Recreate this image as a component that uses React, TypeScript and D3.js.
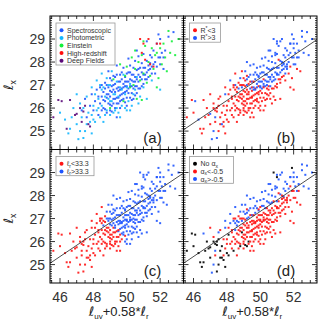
import React, {Component} from 'react'
import * as d3 from 'd3'

// each point: [l_uv + 0.58*l_r, l_x, R* group, l_r group, alpha_x group]
// R*: 0 = R*<3, 1 = R*>3 | l_r: 0 = <33.3, 1 = >33.3 | alpha_x: 0 = none, 1 = <-0.5, 2 = >-0.5
const spectroscopic = [
  [47.3,25.9,0,0,0],[47.5,26.4,0,0,2],[47.6,25.6,0,0,0],[47.8,26.1,0,0,1],[47.9,26.6,1,0,2],
  [48.0,25.9,0,0,1],[48.1,26.3,0,0,0],[48.2,26.8,0,0,2],[48.3,25.7,0,0,1],[48.4,26.2,0,0,1],
  [48.5,26.5,0,0,2],[48.5,27.0,1,0,1],[48.6,26.0,0,0,1],[48.6,26.7,0,1,2],[48.7,26.3,0,0,1],
  [48.7,27.1,0,0,1],[48.8,25.8,0,0,0],[48.8,26.6,0,0,1],[48.9,26.9,1,1,2],[48.9,26.2,0,0,1],
  [49.0,26.5,0,0,1],[49.0,27.3,0,1,2],[49.0,25.9,0,0,1],[49.1,26.7,0,1,1],[49.1,26.1,0,0,1],
  [49.2,27.0,1,1,2],[49.2,26.4,0,0,1],[49.2,27.4,0,1,1],[49.3,26.7,0,1,1],[49.3,26.0,0,0,0],
  [49.3,27.05,0,1,2],[49.4,26.45,0,0,1],[49.4,26.85,1,1,1],[49.4,25.6,0,0,1],[48.9,27.6,0,1,2],
  [49.1,26.95,0,1,1],[48.8,26.45,0,0,1],[49.5,26.75,0,1,1],[49.5,27.15,1,1,2],[49.5,26.2,0,0,1],
  [49.6,26.55,0,1,1],[49.6,27.45,1,1,2],[49.6,26.0,0,0,1],[49.7,26.85,0,1,1],[49.7,27.25,1,1,2],
  [49.7,26.35,0,1,1],[49.8,26.65,0,1,1],[49.8,27.05,1,1,1],[49.8,27.75,1,1,2],[49.9,26.25,0,0,1],
  [49.9,26.95,0,1,1],[49.9,27.35,1,1,2],[50.0,26.75,0,1,1],[50.0,27.15,1,1,1],[50.0,26.1,0,1,1],
  [50.1,27.55,1,1,2],[50.1,26.85,1,1,1],[50.2,26.45,0,1,1],[50.2,27.25,0,1,1],[50.2,27.85,1,1,2],
  [50.3,26.95,1,1,1],[50.3,26.65,0,1,1],[50.3,27.45,1,1,2],[50.4,27.15,1,1,1],[50.4,26.4,0,1,1],
  [50.4,27.75,1,1,2],[50.0,27.5,1,1,1],[50.5,26.95,0,1,1],[50.5,27.35,1,1,1],[50.5,28.05,1,1,2],
  [50.6,26.65,0,1,1],[50.6,27.65,1,1,2],[50.7,27.15,1,1,1],[50.7,27.45,1,1,1],[50.7,28.25,1,1,2],
  [50.8,26.85,0,1,1],[50.8,27.75,1,1,1],[50.9,27.25,1,1,1],[50.9,27.95,1,1,2],[51.0,27.45,1,1,1],
  [51.0,27.05,0,1,1],[51.0,28.35,1,1,2],[51.1,27.75,1,1,1],[51.1,27.25,0,1,1],[51.2,28.05,1,1,2],
  [51.2,27.55,1,1,1],[51.3,27.35,0,1,1],[51.3,27.85,1,1,1],[51.4,28.3,1,1,2],[51.4,27.7,1,1,1],
  [50.6,28.5,1,1,2],[51.2,28.9,1,1,2],[51.5,27.8,1,1,1],[51.5,28.2,1,1,2],[51.6,28.5,1,1,2],
  [51.7,28.0,1,1,1],[51.7,27.5,0,1,1],[51.8,28.8,1,1,2],[51.9,28.2,1,1,1],[52.0,27.9,1,1,1],
  [52.0,29.0,1,1,2],[52.1,28.4,1,1,2],[52.2,27.7,0,1,1],[52.3,28.5,1,1,2],[52.5,29.1,1,1,2],
  [52.8,29.3,1,1,2],[51.9,29.2,1,1,0],
  [48.3,26.5,0,0,1],[48.4,26.9,0,0,2],[48.5,25.9,0,0,1],[48.6,26.35,0,0,1],[48.7,25.95,0,0,1],
  [48.7,26.85,1,0,2],[48.8,27.0,0,1,1],[48.9,26.6,0,0,1],[49.0,26.15,0,0,1],[49.0,26.75,0,1,1],
  [49.1,27.2,0,1,2],[49.1,25.85,0,0,0],[49.2,26.2,0,0,1],[49.2,26.8,0,1,1],[49.3,26.4,0,0,1],
  [49.3,27.35,1,1,2],[49.4,26.2,0,0,1],[49.4,27.45,1,1,2],[49.5,26.45,0,1,1],[49.5,26.9,0,1,1],
  [49.6,26.3,0,0,1],[49.6,26.8,1,1,1],[49.6,27.15,0,1,1],[49.7,26.6,0,1,1],[49.7,27.55,1,1,2],
  [49.8,26.4,0,1,1],[49.8,26.9,1,1,1],[49.9,26.7,0,1,1],[49.9,27.15,1,1,1],[50.0,26.95,1,1,1],
  [50.0,26.45,0,1,1],[50.1,26.65,0,1,1],[50.1,27.15,1,1,1],[50.2,26.95,1,1,1],[50.2,27.55,1,1,2],
  [50.3,26.35,0,1,1],[50.3,27.2,1,1,1],[50.4,26.85,0,1,1],[50.4,27.45,1,1,1],[50.5,26.55,0,1,1],
  [50.5,27.15,1,1,1],[50.6,26.95,1,1,1],[50.6,27.25,1,1,1],[50.7,26.85,0,1,1],[50.7,27.7,1,1,2],
  [50.8,27.35,1,1,1],[50.9,27.55,1,1,1],[50.9,26.95,0,1,1],[51.0,27.75,1,1,2],[51.1,27.45,1,1,1],
  [51.2,27.25,0,1,1],[51.3,27.65,1,1,1],[51.4,27.95,1,1,2],[51.5,27.5,1,1,1],[51.6,27.9,1,1,1],
  [51.8,27.8,0,1,1],[52.0,28.2,1,1,1],[52.2,28.2,1,1,2],[50.1,28.15,1,1,2],[49.4,27.85,1,1,2]
]

const photometric = [
  [46.0,25.8,0,0,0],[46.3,25.5,1,0,0],[46.6,25.1,0,0,0],[47.1,24.65,1,0,2],[47.4,24.7,1,0,0],
  [46.8,26.0,0,0,0],[47.0,25.3,0,0,0],[47.2,26.2,0,0,1],[47.3,25.6,1,0,2],[47.5,25.0,0,0,0],
  [47.6,26.5,0,0,1],[47.7,25.8,0,0,0],[47.8,25.4,0,0,1],[47.9,26.9,0,0,2],[48.0,26.1,0,0,1],
  [48.0,25.5,0,0,0],[48.1,26.6,0,0,1],[48.2,25.9,0,0,1],[48.2,27.2,1,0,2],[48.3,26.4,0,0,1],
  [48.4,25.6,0,0,0],[48.4,27.0,0,0,1],[48.5,26.1,0,0,1],[48.6,26.9,0,0,2],[48.6,25.4,0,0,1],
  [48.7,26.5,0,0,1],[48.8,27.3,1,1,2],[48.8,25.9,0,0,1],[48.9,26.4,0,0,0],[49.0,27.0,0,1,1],
  [49.0,25.7,0,0,1],[49.1,26.3,0,0,1],[49.1,27.6,1,1,2],[49.2,26.6,0,0,1],[49.3,25.9,0,0,1],
  [49.4,27.15,0,1,1],[49.5,26.5,0,0,1],[49.5,25.8,0,0,1],[49.6,26.9,1,1,1],[49.7,26.1,0,0,1],
  [49.8,27.45,1,1,2],[49.9,26.6,0,1,1],[50.0,25.9,0,1,1],[50.1,26.3,0,1,1],[50.2,27.05,1,1,1],
  [50.3,26.1,0,1,1],[50.5,26.8,0,1,1],[50.6,27.35,1,1,1],[50.8,26.5,0,1,1],[51.0,26.9,0,1,1],
  [51.2,26.4,0,1,1],[51.5,27.2,0,1,1],[49.2,28.0,1,1,2],[48.5,27.5,0,0,2],[47.9,24.9,0,0,0],
  [47.0,26.6,0,0,1],[52.0,26.8,0,1,1],
  [47.4,26.0,0,0,0],[47.6,25.3,0,0,0],[47.9,25.7,0,0,1],[48.1,25.4,0,0,0],[48.3,26.0,0,0,1],
  [48.5,26.8,0,0,2],[48.7,25.7,0,0,1],[48.9,27.0,0,1,1],[49.0,26.3,0,0,1],[49.2,25.8,0,0,0],
  [49.3,26.6,0,1,1],[49.4,26.0,0,0,1],[49.6,25.6,0,0,1],[49.7,26.8,1,1,1],[49.9,26.0,0,1,1],
  [50.0,26.9,1,1,1],[50.2,25.9,0,1,1],[50.4,26.6,0,1,1],[50.7,26.2,0,1,1],[46.7,25.6,0,0,0],
  [47.2,25.0,1,0,2],[46.5,24.9,0,0,0]
]

const einstein = [
  [49.0,26.0,0,0,1],[49.2,27.25,1,1,2],[49.6,27.9,1,1,2],[49.8,26.3,0,1,1],[50.0,27.8,1,1,2],
  [50.2,26.9,0,1,1],[50.3,28.2,1,1,2],[50.4,27.0,1,1,1],[50.5,27.7,1,1,2],[50.6,26.4,0,1,1],
  [50.7,28.0,1,1,2],[50.8,27.2,1,1,1],[50.9,26.35,0,1,1],[50.9,28.3,1,1,2],[51.0,27.5,1,1,1],
  [51.1,28.7,1,1,2],[51.2,27.1,0,1,1],[51.3,28.0,1,1,1],[51.4,27.4,0,1,1],[51.5,28.6,1,1,2],
  [51.6,27.7,1,1,1],[51.7,28.3,1,1,2],[51.8,28.4,1,1,1],[51.9,27.3,0,1,1],[52.0,28.6,1,1,2],
  [52.1,27.9,1,1,1],[52.2,28.8,1,1,2],[52.3,28.2,1,1,1],[52.4,27.6,0,1,1],[52.5,29.35,1,1,2],
  [52.6,28.4,1,1,2],[52.7,28.9,1,1,2],[51.0,28.9,1,1,2],[50.5,28.5,1,1,2],[49.9,27.4,1,1,1],
  [51.8,26.9,0,1,1],[52.9,28.3,1,1,2],[53.1,29.0,1,1,2]
]

const highRedshift = [
  [50.8,29.0,1,1,0],[51.0,28.8,1,1,0],[51.8,28.8,1,1,2],[52.0,28.8,1,1,2],[51.1,28.1,0,1,1],
  [51.4,27.9,1,1,1],[51.6,27.8,1,1,1],[50.9,28.4,1,1,2],[51.3,29.0,1,1,2]
]

const deepFields = [
  [45.6,25.6,0,0,0],[45.9,26.35,0,0,0],[46.1,26.3,1,0,0],[46.4,25.1,0,0,0],[46.6,26.35,0,0,2],
  [46.9,25.7,0,0,0],[47.0,25.75,1,0,0],[47.2,26.0,0,0,0],[47.3,25.4,0,0,1],[47.5,26.1,0,0,0],
  [47.7,25.3,1,0,0],[47.8,25.2,0,0,0],[47.4,25.85,0,0,0]
]

const samples = [spectroscopic, photometric, einstein, highRedshift, deepFields]
const sampleNames = ['Spectroscopic', 'Photometric', 'Einstein', 'High-redshift', 'Deep Fields']
const sampleColors = ['#1f55ff', '#12b6ff', '#14f03c', '#ff0d0d', '#5c0a7a']
const twoColors = ['#ff1414', '#1f55ff']
const alphaColors = ['#000000', '#ff1414', '#1f55ff']

const xTicks = [46, 48, 50, 52]
const yTicks = [25, 26, 27, 28, 29]
// fitted relation shown in panels b-d: l_x = slope * x + intercept
const fitSlope = 0.49
const fitIntercept = 2.81

class App extends Component {
    svgRef = React.createRef()

    componentDidMount(){
        this.renderChart()
    }

    renderChart(){
        var left = 50, top = 16, w = 133.5, h = 133.5
        var svg = d3.select(this.svgRef.current)
        svg.selectAll('*').remove()

        var points = samples.flatMap((arr, gi) => arr.map(p => ({x: p[0], y: p[1], src: gi, r: p[2], l: p[3], a: p[4]})))

        const x_scale = d3.scaleLinear().domain([45.4, 53.4]).range([0, w])
        const y_scale = d3.scaleLinear().domain([24.2, 30.0]).range([h, 0])

        const sub = (t) => ({t: t, sub: true})
        var panels = [
            {name: '(a)', col: 0, row: 0, color: d => sampleColors[d.src], fit: false,
             legend: sampleNames.map((n, i) => ({parts: [{t: n}], color: sampleColors[i]})), lw: 59},
            {name: '(b)', col: 1, row: 0, color: d => twoColors[d.r], fit: true,
             legend: [{parts: [{t: 'R'}, {t: '*', sup: true}, {t: '<3'}], color: twoColors[0]},
                      {parts: [{t: 'R'}, {t: '*', sup: true}, {t: '>3'}], color: twoColors[1]}], lw: 31},
            {name: '(c)', col: 0, row: 1, color: d => twoColors[d.l], fit: true,
             legend: [{parts: [{t: 'ℓ'}, sub('r'), {t: '<33.3'}], color: twoColors[0]},
                      {parts: [{t: 'ℓ'}, sub('r'), {t: '>33.3'}], color: twoColors[1]}], lw: 38},
            {name: '(d)', col: 1, row: 1, color: d => alphaColors[d.a], fit: true,
             legend: [{parts: [{t: 'No  α'}, sub('x')], color: alphaColors[0]},
                      {parts: [{t: 'α'}, sub('x'), {t: '<-0.5'}], color: alphaColors[1]},
                      {parts: [{t: 'α'}, sub('x'), {t: '>-0.5'}], color: alphaColors[2]}], lw: 44}
        ]

        panels.forEach(p => {
            var g = svg.append('g').attr('transform', `translate(${left + p.col * w}, ${top + p.row * h})`)

            // Add the points
            g.append('g').selectAll('rect').data(points).join('rect')
            .attr('x', d => x_scale(d.x) - 1)
            .attr('y', d => y_scale(d.y) - 1)
            .attr('width', 2).attr('height', 2)
            .style('fill', p.color)
            .style('opacity', 0.9)

            // Add the fitted line
            if (p.fit){
                var x0 = 45.4, x1 = 53.4
                g.append('line')
                .attr('x1', x_scale(x0)).attr('y1', y_scale(fitSlope * x0 + fitIntercept))
                .attr('x2', x_scale(x1)).attr('y2', y_scale(fitSlope * x1 + fitIntercept))
                .style('stroke', '#222').style('stroke-width', 0.8)
            }

            // Add the frame and ticks
            g.append('rect').attr('width', w).attr('height', h)
            .style('fill', 'none').style('stroke', '#000').style('stroke-width', 1)

            var xMinor = d3.range(45.5, 53.4, 0.5)
            var yMinor = d3.range(24.3, 30.0, 0.1)
            var ticks = g.append('g').style('stroke', '#000').style('stroke-width', 0.8)
            xMinor.forEach(v => {
                var len = xTicks.includes(Math.round(v * 10) / 10) ? 5 : 3
                var px = x_scale(v)
                ticks.append('line').attr('x1', px).attr('x2', px).attr('y1', h).attr('y2', h - len)
                ticks.append('line').attr('x1', px).attr('x2', px).attr('y1', 0).attr('y2', len)
            })
            yMinor.forEach(v => {
                var r = Math.round(v * 10) / 10
                var len = Number.isInteger(r) ? 5 : 2
                var py = y_scale(r)
                ticks.append('line').attr('y1', py).attr('y2', py).attr('x1', 0).attr('x2', len)
                ticks.append('line').attr('y1', py).attr('y2', py).attr('x1', w).attr('x2', w - len)
            })

            // Add the tick labels
            if (p.col == 0){
                g.selectAll('.ylab').data(yTicks).join('text')
                .attr('x', -5).attr('y', d => y_scale(d) + 5)
                .attr('text-anchor', 'end')
                .style('font-family', 'Liberation Sans, Arial, sans-serif').style('font-size', '14px').style('fill', '#333')
                .text(d => d)
            }
            if (p.row == 1){
                g.selectAll('.xlab').data(xTicks).join('text')
                .attr('x', d => x_scale(d)).attr('y', h + 19)
                .attr('text-anchor', 'middle')
                .style('font-family', 'Liberation Sans, Arial, sans-serif').style('font-size', '14px').style('fill', '#333')
                .text(d => d)
            }

            // Add the legend
            var lg = g.append('g').attr('transform', 'translate(6, 7)')
            lg.append('rect').attr('width', p.lw).attr('height', p.legend.length * 7.6 + 4)
            .style('fill', '#fff').style('stroke', '#999').style('stroke-width', 0.8)
            p.legend.forEach((e, i) => {
                var cy = 7.3 + i * 7.6
                lg.append('circle').attr('cx', 5.5).attr('cy', cy).attr('r', 2).style('fill', e.color)
                var t = lg.append('text').attr('x', 11).attr('y', cy + 2.5)
                .style('font-family', 'Liberation Sans, Arial, sans-serif').style('font-size', '7px').style('fill', '#333')
                e.parts.forEach(part => {
                    var s = t.append('tspan').text(part.t)
                    if (part.sub) s.style('font-size', '5px').attr('dy', 1.5)
                    else if (part.sup) s.style('font-size', '5px').attr('dy', -2.5)
                    else if (t.selectAll('tspan').size() > 1) s.attr('dy', 0)
                })
                // reset baseline after sub/sup shifts
                var shift = 0
                t.selectAll('tspan').each(function(){
                    var node = d3.select(this)
                    var dy = +node.attr('dy') || 0
                    if (dy == 0 && shift != 0){ node.attr('dy', -shift); shift = 0 }
                    else shift += dy
                })
            })

            // Add the panel label
            g.append('text').attr('x', w - 31).attr('y', h - 7)
            .attr('text-anchor', 'middle')
            .style('font-family', 'Liberation Sans, Arial, sans-serif').style('font-size', '15px').style('fill', '#222')
            .text(p.name)
        })

        // Add the axis titles
        ;[0, 1].forEach(row => {
            var cy = top + row * h + y_scale(27)
            var t = svg.append('text')
            .attr('transform', `translate(13, ${cy}) rotate(-90)`)
            .attr('text-anchor', 'middle')
            .style('font-family', 'DejaVu Sans, sans-serif').style('font-size', '13px').style('fill', '#222')
            t.append('tspan').text('ℓ')
            t.append('tspan').text('x').style('font-size', '8px').attr('dy', 3)
        })
        ;[0, 1].forEach(col => {
            var cx = left + col * w + w / 2 + 2
            var t = svg.append('text')
            .attr('x', cx).attr('y', top + 2 * h + 33)
            .attr('text-anchor', 'middle')
            .style('font-family', 'Liberation Sans, Arial, sans-serif').style('font-size', '13px').style('fill', '#222')
            t.append('tspan').text('ℓ').style('font-family', 'DejaVu Sans, sans-serif')
            t.append('tspan').text('uv').style('font-size', '8px').attr('dy', 3)
            t.append('tspan').text('+0.58*').attr('dy', -3)
            t.append('tspan').text('ℓ').style('font-family', 'DejaVu Sans, sans-serif')
            t.append('tspan').text('r').style('font-size', '8px').attr('dy', 3)
        })
    }

    render(){
        return(
            <svg ref={this.svgRef} width={333} height={333}
                style={{position: 'absolute', left: 0, top: 0, background: '#fff'}}></svg>
        )
    }
}

export default App
